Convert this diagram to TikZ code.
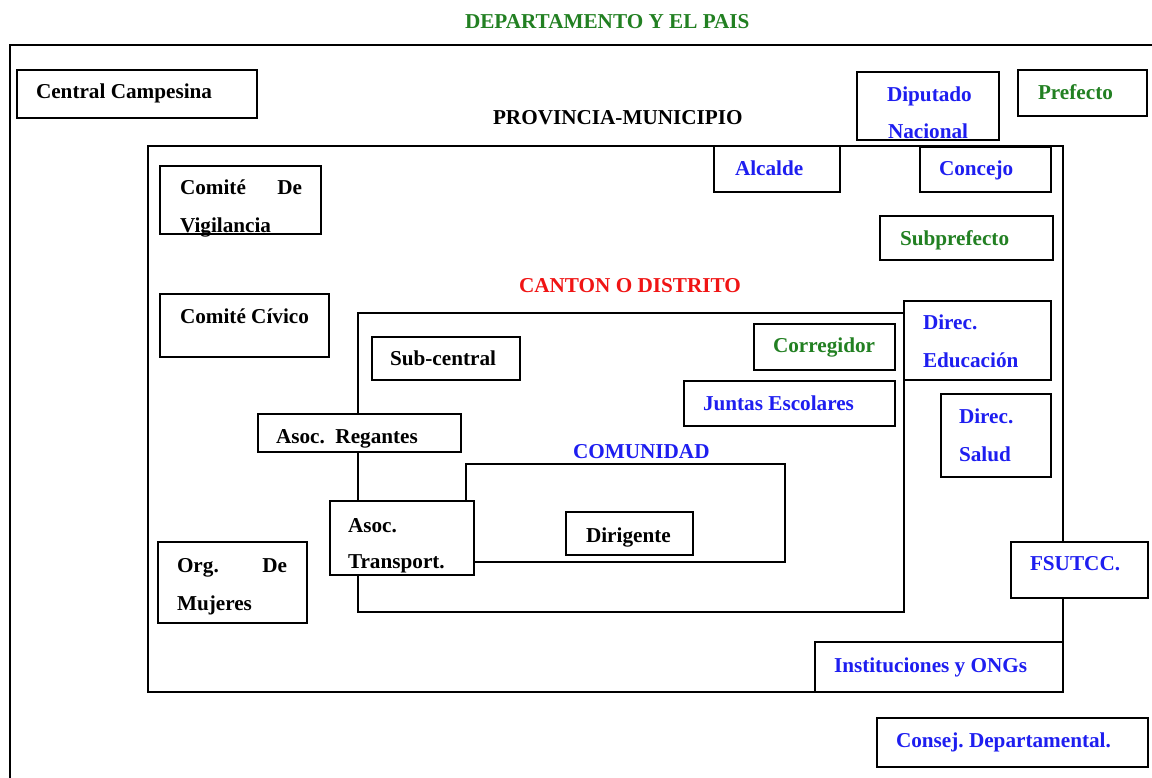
\documentclass[tikz,border=0pt]{standalone}
\usepackage{fontspec}
\setmainfont{Liberation Serif}
\frenchspacing
\definecolor{lvgreen}{RGB}{34,128,34}
\definecolor{lvblue}{RGB}{30,30,240}
\definecolor{lvred}{RGB}{240,20,20}
\tikzset{
  frame/.style={draw=black, line width=1.8pt},
  box/.style={draw=black, fill=white, line width=1.8pt, rectangle, inner sep=0pt, outer sep=0pt},
  lbl/.style={inner sep=0pt, outer sep=0pt, font=\fontsize{21.2}{24}\selectfont\bfseries, anchor=base west},
}
% rectangle node from its corner coordinates: name, x1, y1, x2, y2
\newcommand\rbox[5]{%
  \node[box, minimum width={(#4-#2)*1pt}, minimum height={(#5-#3)*1pt}]
    (#1) at ({(#2+#4)/2},{(#3+#5)/2}) {};}
\begin{document}
\begin{tikzpicture}[x=1pt, y=-1pt]
\clip (0,0) rectangle (1152,777);
\fill[white] (0,0) rectangle (1152,777);

% nested levels
\draw[frame] (1160,45) -- (10,45) -- (10,790);
\node[frame, rectangle, inner sep=0pt, minimum width=915pt, minimum height=546pt] (prov) at (605.5,419) {};
\node[frame, rectangle, inner sep=0pt, minimum width=546pt, minimum height=299pt] (canton) at (631,462.5) {};
\node[frame, rectangle, inner sep=0pt, minimum width=319pt, minimum height=98pt] (comunidad) at (625.5,513) {};

% level titles
\node[lbl, text=lvgreen] (t-dep) at (465,28) {DEPARTAMENTO Y EL PAIS};
\node[lbl] (t-prov) at (493,124) {PROVINCIA-MUNICIPIO};
\node[lbl, text=lvred] (t-canton) at (519,292) {CANTON O DISTRITO};
\node[lbl, text=lvblue] (t-com) at (573,458) {COMUNIDAD};

% actors
\rbox{cc}{17}{70}{257}{118}
\rbox{dip}{857}{72}{999}{140}
\rbox{pref}{1018}{70}{1147}{116}
\rbox{alc}{714}{146}{840}{192}
\rbox{conc}{920}{147}{1051}{192}
\rbox{subp}{880}{216}{1053}{260}
\rbox{cvig}{160}{166}{321}{234}
\rbox{cciv}{160}{294}{329}{357}
\rbox{subc}{372}{337}{520}{380}
\rbox{corr}{754}{324}{895}{370}
\rbox{juntas}{684}{381}{895}{426}
\rbox{deduc}{904}{301}{1051}{380}
\rbox{dsalud}{941}{394}{1051}{477}
\rbox{regantes}{258}{414}{461}{452}
\rbox{transp}{330}{501}{474}{575}
\rbox{dirig}{566}{512}{693}{555}
\rbox{mujeres}{158}{542}{307}{623}
\rbox{fsutcc}{1011}{542}{1148}{598}
\rbox{inst}{815}{642}{1063}{692}
\rbox{consej}{877}{718}{1148}{767}

% actor names
\node[lbl] (t-cc) at (36,98) {Central Campesina};
\node[lbl, text=lvblue] (t-dip1) at (887,101) {Diputado};
\node[lbl, text=lvblue] (t-dip2) at (888,138) {Nacional};
\node[lbl, text=lvgreen] (t-pref) at (1038,99) {Prefecto};
\node[lbl, text=lvblue] (t-alc) at (735,175) {Alcalde};
\node[lbl, text=lvblue] (t-conc) at (939,175) {Concejo};
\node[lbl, text=lvgreen] (t-subp) at (900,245) {Subprefecto};
\node[lbl] (t-cvig1) at (180,194) {\hbox to 122pt{Comité\hfill De}};
\node[lbl] (t-cvig2) at (180,232) {Vigilancia};
\node[lbl] (t-cciv) at (180,323) {Comité Cívico};
\node[lbl] (t-subc) at (390,365) {Sub-central};
\node[lbl, text=lvgreen] (t-corr) at (773,352) {Corregidor};
\node[lbl, text=lvblue] (t-juntas) at (703,410) {Juntas Escolares};
\node[lbl, text=lvblue] (t-deduc1) at (923,329) {Direc.};
\node[lbl, text=lvblue] (t-deduc2) at (923,367) {Educación};
\node[lbl, text=lvblue] (t-dsalud1) at (959,423) {Direc.};
\node[lbl, text=lvblue] (t-dsalud2) at (959,461) {Salud};
\node[lbl] (t-regantes) at (276,443) {Asoc.\ \ Regantes};
\node[lbl] (t-transp1) at (348,532) {Asoc.};
\node[lbl] (t-transp2) at (348,568) {Transport.};
\node[lbl] (t-dirig) at (586,542) {Dirigente};
\node[lbl] (t-muj1) at (177,572) {\hbox to 110pt{Org.\hfill De}};
\node[lbl] (t-muj2) at (177,610) {Mujeres};
\node[lbl, text=lvblue] (t-fsutcc) at (1030,570) {FSUTCC.};
\node[lbl, text=lvblue] (t-inst) at (834,672) {Instituciones y ONGs};
\node[lbl, text=lvblue] (t-consej) at (896,747) {Consej. Departamental.};
\end{tikzpicture}
\end{document}
